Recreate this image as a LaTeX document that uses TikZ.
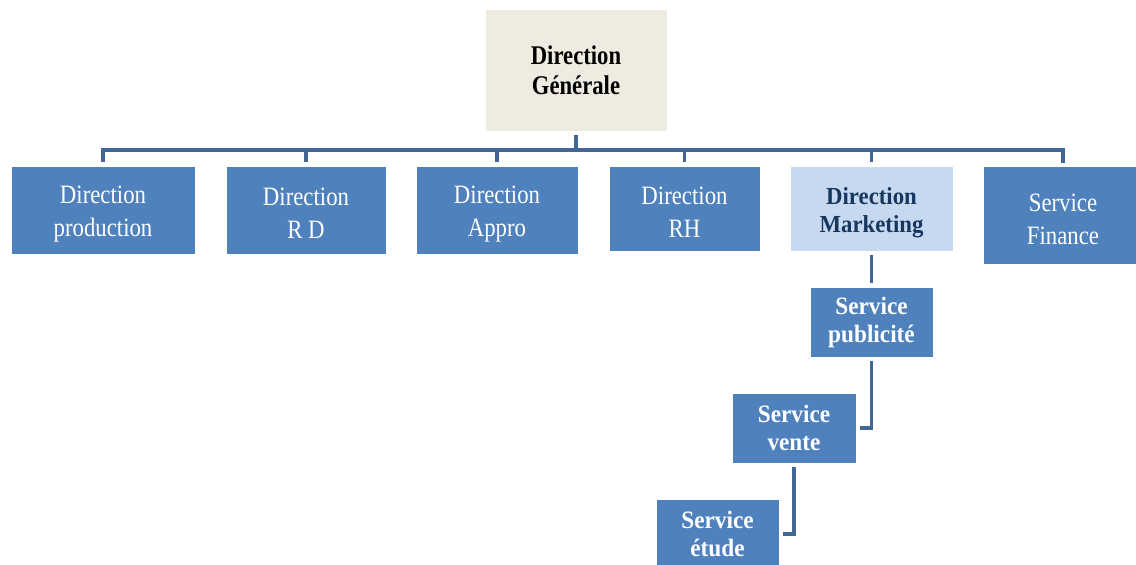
\documentclass[tikz,border=0pt]{standalone}
\usepackage{fontspec}
\setmainfont{Liberation Serif}[FakeStretch=0.86]
\newfontfamily\boldcond{Liberation Serif}[FakeStretch=0.93]
\newfontfamily\topcond{Liberation Serif}[FakeStretch=0.84]
\usepackage{tikz}

\definecolor{boxblue}{RGB}{79,129,189}
\definecolor{lightblue}{RGB}{198,217,241}
\definecolor{navytext}{RGB}{23,55,94}
\definecolor{beige}{RGB}{238,236,225}
\definecolor{linkblue}{RGB}{64,102,152}

% invisible strut that pushes the first line of a box down a little
\newcommand{\rowstrut}{\rule{0pt}{25pt}}

\begin{document}
\begin{tikzpicture}[x=1pt, y=-1pt,
    box/.style={rectangle, draw=white, line width=0.6pt, fill=boxblue, text=white, align=center, inner sep=0pt, outer sep=4pt, font=\fontsize{26.5}{33}\selectfont},
    svc/.style={box, font=\boldcond\bfseries\fontsize{25}{28}\selectfont},
    conn/.style={draw=linkblue, line width=3.5pt, line join=miter}]

        \useasboundingbox (0,0) rectangle (1136,565);

        % Top of the chart
        \node[box, fill=beige, text=black, font=\topcond\bfseries\fontsize{27}{30}\selectfont, minimum width=182, minimum height=122] (dg) at (576,70) {Direction\\Générale};

        % Row of directions
        \node[box, minimum width=184, minimum height=88] (prod) at (103,210) {\rowstrut Direction\\production};
        \node[box, minimum width=160, minimum height=88] (rd) at (306,210) {\rowstrut Direction\\R D};
        \node[box, minimum width=162, minimum height=88] (appro) at (497,210) {\rowstrut Direction\\Appro};
        \node[box, minimum width=151, minimum height=85] (rh) at (684.5,208.5) {\rowstrut Direction\\RH};
        \node[box, fill=lightblue, text=navytext, font=\boldcond\bfseries\fontsize{24.5}{28}\selectfont, minimum width=163, minimum height=85] (mkt) at (871.5,208.5) {\rowstrut Direction\\Marketing};
        \node[box, minimum width=160, minimum height=98] (fin) at (1063,215.5) {\rowstrut Service\\Finance};

        % Services under marketing
        \node[svc, minimum width=123, minimum height=70] (pub) at (871.5,322) {Service\\publicité};
        \node[svc, minimum width=124, minimum height=70] (vente) at (794,428) {Service\\vente};
        \node[svc, minimum width=123, minimum height=70] (etude) at (717.5,534) {Service\\étude};

        % Connectors
        \coordinate (bus) at (0,150);
        \draw[conn] (dg.south) -- (dg.south |- bus);
        \draw[conn] (prod.north) -- (prod.north |- bus) -- (fin.north |- bus) -- (fin.north);
        \foreach \n in {rd, appro, rh, mkt} {
            \draw[conn] (\n.north |- bus) -- (\n.north);
        }
        \draw[conn] (mkt.south) -- (pub.north);
        \draw[conn] (pub.south) |- (vente.east);
        \draw[conn] (vente.south) |- (etude.east);

    \end{tikzpicture}
\end{document}
